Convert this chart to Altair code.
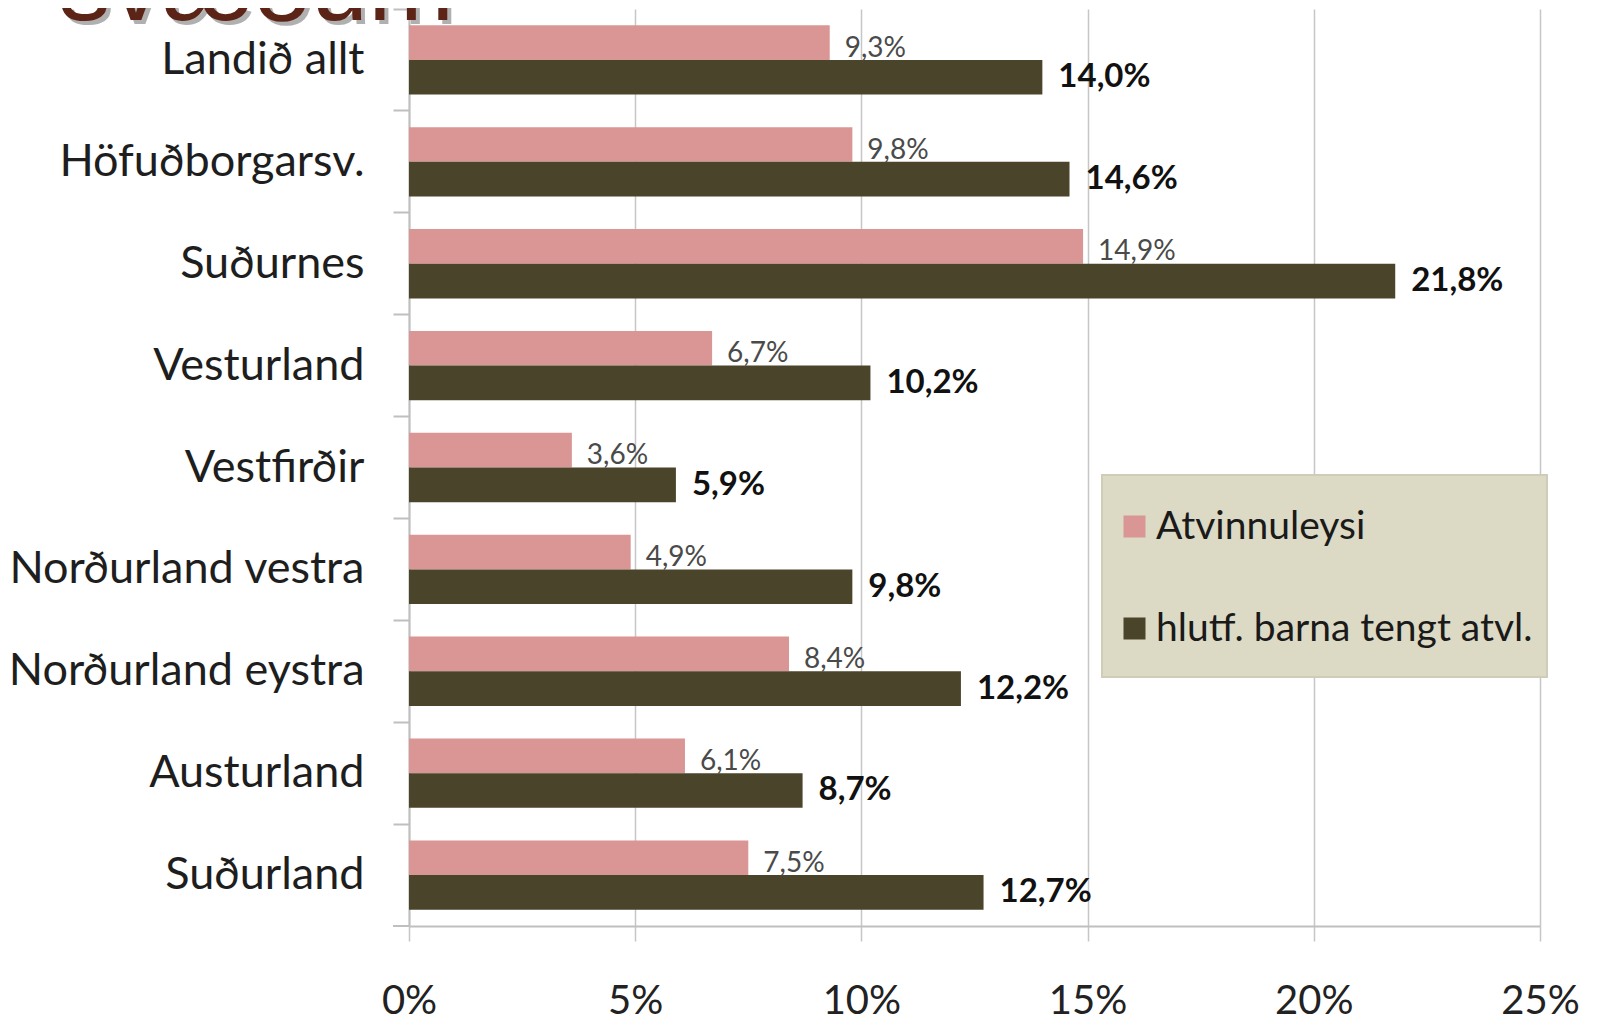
import altair as alt
import pandas as pd

# ---- data ----
regions = ["Landið allt", "Höfuðborgarsv.", "Suðurnes", "Vesturland", "Vestfirðir",
           "Norðurland vestra", "Norðurland eystra", "Austurland", "Suðurland"]
atvinnuleysi = [9.3, 9.8, 14.9, 6.7, 3.6, 4.9, 8.4, 6.1, 7.5]
born_tengt = [14.0, 14.6, 21.8, 10.2, 5.9, 9.8, 12.2, 8.7, 12.7]
series_names = ["Atvinnuleysi", "hlutf. barna tengt atvl."]
series_colors = ["#d99694", "#4a452a"]
x_ticks = [0, 5, 10, 15, 20, 25]
title_text = "svæðum"

rows = []
for r, a, b in zip(regions, atvinnuleysi, born_tengt):
    for s, v in zip(series_names, [a, b]):
        rows.append({"region": r, "series": s, "value": v,
                     "label": f"{v:.1f}".replace(".", ",") + "%"})
df = pd.DataFrame(rows)

FONT = "Lato"

y_enc = alt.Y("region:N", sort=regions, title=None,
              scale=alt.Scale(paddingInner=0, paddingOuter=0),
              axis=alt.Axis(bandPosition=0, grid=False, domainColor="#bfbfbf", domainWidth=2,
                            tickColor="#bfbfbf", tickSize=16, tickWidth=2,
                            labelFont=FONT, labelFontSize=45, labelColor="#1e1e1e",
                            labelPadding=29, labelLimit=600))
yoff_enc = alt.YOffset("series:N", sort=series_names,
                       scale=alt.Scale(paddingInner=0, paddingOuter=0.47))
x_enc = alt.X("value:Q", title=None,
              scale=alt.Scale(domain=[0, 25], nice=False, zero=True),
              axis=alt.Axis(values=x_ticks, labelExpr="datum.value + '%'",
                            grid=True, gridColor="#c6c6c6", gridWidth=1.5,
                            domainColor="#bfbfbf", domainWidth=2,
                            tickColor="#c6c6c6", tickSize=15, tickWidth=1.5,
                            labelFont=FONT, labelFontSize=40, labelColor="#222222",
                            labelPadding=40, labelFlush=False, labelOverlap=False))

base = alt.Chart(df)

bars = base.mark_bar(strokeWidth=0).encode(
    y=y_enc, yOffset=yoff_enc, x=x_enc,
    color=alt.Color("series:N", sort=series_names,
                    scale=alt.Scale(domain=series_names, range=series_colors),
                    legend=alt.Legend(title=None, orient="none", direction="vertical",
                                      legendX=706, legendY=498,
                                      symbolType="square", symbolSize=484,
                                      symbolStrokeWidth=0, symbolOpacity=1,
                                      labelFont=FONT, labelFontSize=39,
                                      labelColor="#1a1a1a", labelOffset=2,
                                      rowPadding=62, padding=0, labelLimit=600)),
)

pink_text = base.transform_filter(alt.datum.series == series_names[0]).mark_text(
    align="left", baseline="alphabetic", dx=15, dy=14,
    font=FONT, fontSize=28, color="#4a4a4a"
).encode(y=alt.Y("region:N", sort=regions), yOffset=alt.YOffset("series:N", sort=series_names),
         x="value:Q", text="label:N")

dark_text = base.transform_filter(alt.datum.series == series_names[1]).mark_text(
    align="left", baseline="middle", dx=16,
    font=FONT, fontSize=33, fontWeight="bold", color="#111111"
).encode(y=alt.Y("region:N", sort=regions), yOffset=alt.YOffset("series:N", sort=series_names),
         x="value:Q", text="label:N")

one = pd.DataFrame({"t": [title_text]})

legend_box = alt.Chart(one).mark_rect(fill="#dcd9c4", stroke="#cfccb8", strokeWidth=2).encode(
    x=alt.value(693), x2=alt.value(1138), y=alt.value(466), y2=alt.value(668))

bottom_tick = alt.Chart(one).mark_rule(color="#bfbfbf", strokeWidth=2).encode(
    x=alt.value(-16), x2=alt.value(0), y=alt.value(917))

top_axis_ext = alt.Chart(one).mark_rule(color="#bfbfbf", strokeWidth=2).encode(
    x=alt.value(0), y=alt.value(-10), y2=alt.value(0))

shadow = alt.Chart(one).mark_text(
    align="left", baseline="alphabetic", font="Liberation Sans", fontSize=103,
    color="#b0b0b0").encode(text="t:N", x=alt.value(-346), y=alt.value(15))
title = alt.Chart(one).mark_text(
    align="left", baseline="alphabetic", font="Liberation Sans", fontSize=103,
    color="#5b2417").encode(text="t:N", x=alt.value(-350), y=alt.value(11))

chart = alt.layer(legend_box, bars, pink_text, dark_text, bottom_tick, top_axis_ext,
                  shadow, title).properties(
    width=1131, height=917,
    autosize=alt.AutoSizeParams(type="none"),
    padding={"left": 401, "top": 1, "right": 50, "bottom": 95},
).configure_view(stroke=None)

chart.save("out.html", embed_options={"renderer": "svg", "actions": False})
